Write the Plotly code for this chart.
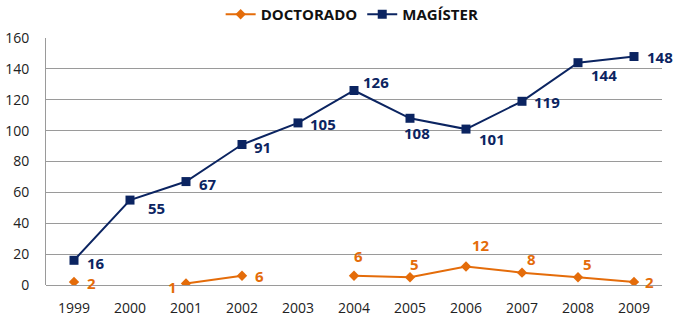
import plotly.graph_objects as go

# Annual graduates by program level
years = [1999, 2000, 2001, 2002, 2003, 2004, 2005, 2006, 2007, 2008, 2009]
doctorado = [2, None, 1, 6, None, 6, 5, 12, 8, 5, 2]
magister = [16, 55, 67, 91, 105, 126, 108, 101, 119, 144, 148]
y_ticks = [0, 20, 40, 60, 80, 100, 120, 140, 160]

ORANGE = "#E46C0A"
NAVY = "#0B2461"

# Pixel offsets (dx, dy) of each value label from its marker
mag_offsets = [(11, -3), (16, -8), (11, -2), (10, -2), (10, -1), (7, 8), (-8, -15),
               (11, -10), (10, -1), (11, -12), (11, 0)]
doc_offsets = [(11, -1), None, (-20, -4), (11, 0), None, (-2, 20), (-2, 13),
               (4, 21), (3, 14), (3, 13), (9, 0)]

fig = go.Figure()
fig.add_trace(go.Scatter(
    x=years, y=doctorado, name="DOCTORADO", mode="lines+markers",
    line=dict(color=ORANGE, width=2), connectgaps=False,
    marker=dict(symbol="diamond", size=8, color=ORANGE),
))
fig.add_trace(go.Scatter(
    x=years, y=magister, name="MAGÍSTER", mode="lines+markers",
    line=dict(color=NAVY, width=2),
    marker=dict(symbol="square", size=9, color=NAVY),
))

label_font = "Open Sans"
for xv, yv, off in zip(years, magister, mag_offsets):
    fig.add_annotation(x=xv, y=yv, text=f"<b>{yv}</b>", showarrow=False,
                       xanchor="left", yanchor="middle", xshift=off[0], yshift=off[1],
                       font=dict(family=label_font, size=15, color=NAVY))
for xv, yv, off in zip(years, doctorado, doc_offsets):
    if yv is None:
        continue
    fig.add_annotation(x=xv, y=yv, text=f"<b>{yv}</b>", showarrow=False,
                       xanchor="left", yanchor="middle", xshift=off[0], yshift=off[1],
                       font=dict(family=label_font, size=15, color=ORANGE))

fig.update_layout(
    width=675, height=321,
    margin=dict(l=46, r=13, t=38, b=36, autoexpand=False),
    paper_bgcolor="white", plot_bgcolor="white",
    font=dict(family="Open Sans", size=14, color="#222222"),
    showlegend=True,
    legend=dict(orientation="h", x=0.497, xanchor="center", yref="container",
                y=0.955, yanchor="middle",
                font=dict(family="Open Sans", size=15, color="#111111", weight="bold")),
    xaxis=dict(range=[1998.5, 2009.5], tickmode="array", tickvals=years,
               ticktext=[str(y) for y in years], showgrid=False, zeroline=False,
               showline=False, ticks="", ticklabelstandoff=13,
               tickfont=dict(size=14)),
    yaxis=dict(range=[0, 160], tickmode="array", tickvals=y_ticks,
               showgrid=True, gridcolor="#9a9a9a", gridwidth=1,
               zeroline=True, zerolinecolor="#9a9a9a", zerolinewidth=1,
               showline=True, linecolor="#9a9a9a", linewidth=1,
               ticks="", ticklabelstandoff=13, tickfont=dict(size=14)),
)

fig.write_html("out.html")
